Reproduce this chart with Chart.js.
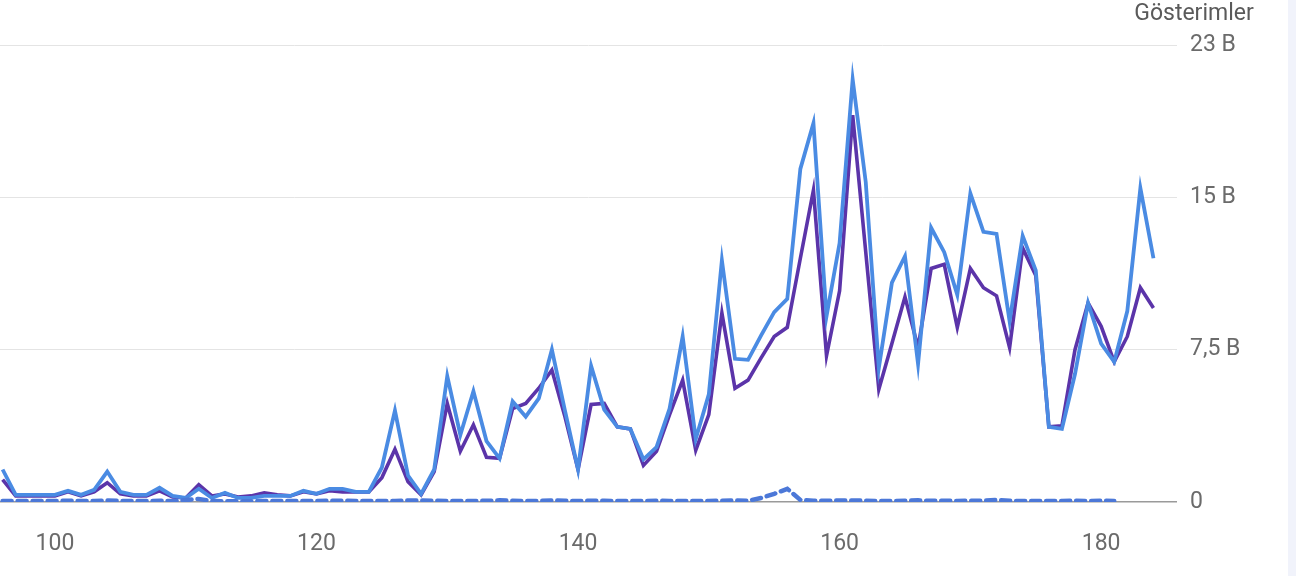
<!DOCTYPE html>
<html>
<head>
<meta charset="utf-8">
<script src="https://cdn.jsdelivr.net/npm/chart.js@4.4.1/dist/chart.umd.min.js"></script>
<style>
  html, body { margin: 0; padding: 0; background: #f1f3fb; }
  #wrap { width: 1288px; height: 576px; background: #fff; }
</style>
</head>
<body>
<div id="wrap"><canvas id="graphic-gosterimler" width="1288" height="576"></canvas></div>
<script>
const days = [];
for (let d = 96; d <= 184; d++) days.push(d);

// açık mavi seri
const gosterimA = [1.6, 0.35, 0.35, 0.35, 0.35, 0.55, 0.35, 0.6, 1.5, 0.5,
    0.35, 0.35, 0.7, 0.3, 0.2, 0.65, 0.2, 0.45, 0.2, 0.2,
    0.3, 0.3, 0.3, 0.55, 0.4, 0.65, 0.65, 0.5, 0.5, 1.7,
    4.5, 1.3, 0.4, 1.6, 6.2, 3.3, 5.45, 3.0, 2.15, 4.95,
    4.2, 5.1, 7.5, 4.5, 1.6, 6.7, 4.55, 3.7, 3.6, 2.1,
    2.7, 4.6, 8.15, 3.1, 5.3, 11.9, 7.05, 7.0, 8.2, 9.35,
    10.0, 16.4, 18.65, 9.15, 12.75, 20.8, 15.75, 6.6, 10.8, 12.1,
    6.8, 13.5, 12.3, 10.2, 15.2, 13.3, 13.2, 8.9, 13.1, 11.4,
    3.7, 3.6, 6.3, 9.8, 7.8, 6.9, 9.4, 15.45, 12.0];

// mor seri
const gosterimB = [1.1, 0.3, 0.3, 0.3, 0.3, 0.5, 0.3, 0.5, 0.95, 0.4,
    0.3, 0.3, 0.55, 0.25, 0.2, 0.85, 0.3, 0.4, 0.25, 0.3,
    0.45, 0.35, 0.3, 0.5, 0.4, 0.55, 0.5, 0.5, 0.5, 1.2,
    2.6, 1.0, 0.35, 1.5, 4.85, 2.5, 3.8, 2.2, 2.15, 4.6,
    4.85, 5.6, 6.5, 4.2, 1.6, 4.8, 4.85, 3.7, 3.6, 1.8,
    2.5, 4.3, 6.0, 2.55, 4.3, 9.3, 5.6, 6.0, 7.1, 8.15,
    8.6, 12.0, 15.35, 7.2, 10.4, 19.05, 12.3, 5.55, 7.8, 10.1,
    7.6, 11.5, 11.7, 8.6, 11.5, 10.55, 10.15, 7.6, 12.5, 11.15,
    3.7, 3.75, 7.5, 9.8, 8.65, 6.9, 8.15, 10.55, 9.55];

// kesikli seri (96..181)
const gosterimC = [0.05, 0.05, 0.05, 0.05, 0.05, 0.06, 0.05, 0.05, 0.08, 0.05,
    0.05, 0.05, 0.06, 0.05, 0.1, 0.15, 0.05, 0.04, 0.04, 0.04,
    0.05, 0.05, 0.05, 0.05, 0.05, 0.06, 0.06, 0.05, 0.05, 0.05,
    0.05, 0.08, 0.08, 0.06, 0.05, 0.05, 0.05, 0.06, 0.08, 0.06,
    0.05, 0.05, 0.08, 0.06, 0.05, 0.06, 0.06, 0.05, 0.05, 0.05,
    0.06, 0.05, 0.05, 0.05, 0.05, 0.06, 0.08, 0.06, 0.2, 0.4,
    0.65, 0.1, 0.06, 0.06, 0.08, 0.08, 0.06, 0.05, 0.05, 0.06,
    0.08, 0.06, 0.06, 0.05, 0.06, 0.06, 0.1, 0.06, 0.05, 0.05,
    0.05, 0.05, 0.06, 0.05, 0.06, 0.05];

const yTicks = [0, 7.5, 15, 22.5];
const yTickLabels = ['0', '7,5 B', '15 B', '23 B'];
const xTicks = [100, 120, 140, 160, 180];

function pts(values) {
    return values.map((v, i) => ({ x: days[i], y: v }));
}

const tickColor = '#6b6b6b';
const tickFont = { family: 'Roboto', size: 23 };

const titlePlugin = {
    id: 'sagBaslik',
    afterDraw(chart) {
        const ctx = chart.ctx;
        ctx.save();
        ctx.font = '23px Roboto';
        ctx.fillStyle = '#5a5a5a';
        ctx.textAlign = 'center';
        ctx.textBaseline = 'alphabetic';
        ctx.fillText('Gösterimler', 1194, 20);
        ctx.restore();
    }
};

new Chart(document.getElementById('graphic-gosterimler'), {
    type: 'line',
    data: {
        datasets: [{
            label: 'B',
            data: pts(gosterimB),
            borderColor: '#5b34a9',
            borderWidth: 3.6,
            pointRadius: 0,
            tension: 0,
            order: 3
        }, {
            label: 'A',
            data: pts(gosterimA),
            borderColor: '#4a8be3',
            borderWidth: 3.8,
            pointRadius: 0,
            tension: 0,
            order: 2
        }, {
            label: 'C',
            data: pts(gosterimC),
            borderColor: '#4c78d8',
            borderWidth: 4.5,
            borderDash: [9, 6],
            borderCapStyle: 'round',
            pointRadius: 0,
            tension: 0,
            order: 1
        }]
    },
    options: {
        responsive: false,
        maintainAspectRatio: false,
        animation: false,
        layout: { padding: { top: 45, bottom: 22, left: 0, right: 0 } },
        scales: {
            x: {
                type: 'linear',
                min: 95.8,
                max: 185.8,
                border: { display: false },
                grid: { display: false, drawTicks: false },
                afterBuildTicks(scale) {
                    scale.ticks = xTicks.map(v => ({ value: v }));
                },
                afterFit(scale) {
                    scale.height = 52;
                },
                ticks: {
                    padding: 28,
                    color: tickColor,
                    font: tickFont,
                    maxRotation: 0,
                    callback: v => String(v)
                }
            },
            y: {
                position: 'right',
                min: 0,
                max: 22.5,
                border: { display: false },
                grid: {
                    drawTicks: false,
                    color: ctx => ctx.tick && ctx.tick.value === 0 ? '#9a9a9a' : '#e4e4e4',
                    lineWidth: ctx => ctx.tick && ctx.tick.value === 0 ? 1.5 : 1
                },
                afterBuildTicks(scale) {
                    scale.ticks = yTicks.map(v => ({ value: v }));
                },
                afterFit(scale) {
                    scale.width = 111;
                },
                ticks: {
                    padding: 13,
                    color: tickColor,
                    font: tickFont,
                    callback: function (value) {
                        const i = yTicks.indexOf(value);
                        return i >= 0 ? yTickLabels[i] : '';
                    }
                }
            }
        },
        plugins: {
            legend: { display: false },
            tooltip: { enabled: false }
        }
    },
    plugins: [titlePlugin]
});
</script>
</body>
</html>
